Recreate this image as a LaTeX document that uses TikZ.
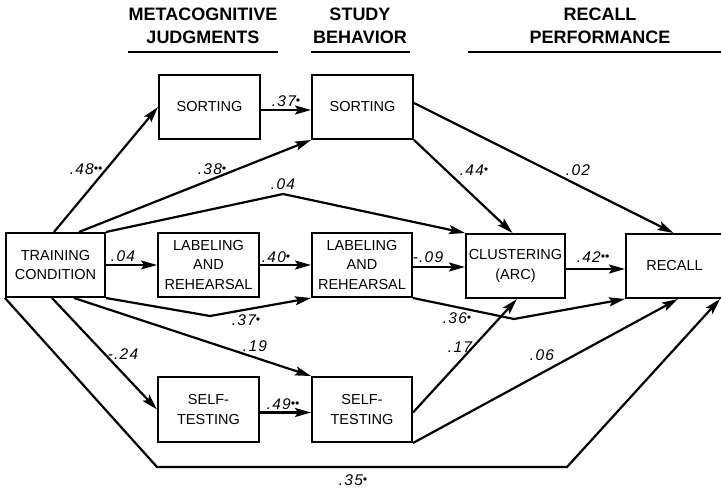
\documentclass[tikz,border=0pt]{standalone}
\usepackage{fontspec}
\setmainfont{Liberation Sans}
\newfontfamily\lblfont[LetterSpace=8]{Liberation Sans}
\usetikzlibrary{arrows.meta,calc}
\newcommand\dt{{\fontsize{12}{12}\selectfont\raisebox{0.25ex}{•}}}
\begin{document}
\begin{tikzpicture}[x=1pt,y=-1pt,
  box/.style={draw, line width=2pt, inner sep=0pt, align=center,
    font=\fontsize{14.5}{19.5}\selectfont},
  conn/.style={line width=2.2pt, -{Stealth[length=16pt,width=9pt,inset=3pt]}, line join=miter},
  lbl/.style={font=\lblfont\fontsize{15.5}{15.5}\selectfont\itshape, inner sep=1pt},
  hdr/.style={font=\fontsize{18}{23}\selectfont\bfseries, align=center},
  uline/.style={line width=2pt}]
\useasboundingbox (0,0) rectangle (721,489);

% headers
\node[hdr] (h1) at (203,26) {METACOGNITIVE\\JUDGMENTS};
\node[hdr] (h2) at (360,26) {STUDY\\BEHAVIOR};
\node[hdr] (h3) at (600,26) {RECALL\\PERFORMANCE};
\draw[uline] (128,52) -- (278,52);
\draw[uline] (311,52) -- (410,52);
\draw[uline] (468,52) -- (721,52);

% boxes
\node[box, minimum width=99pt, minimum height=64pt] (tc) at (55.5,265) {TRAINING\\CONDITION};
\node[box, minimum width=101pt, minimum height=64pt] (ms) at (209.5,107) {SORTING};
\node[box, minimum width=101pt, minimum height=64pt] (ss) at (362.5,107) {SORTING};
\node[box, minimum width=101pt, minimum height=64pt] (ml) at (208.5,265) {LABELING\\AND\\REHEARSAL};
\node[box, minimum width=100pt, minimum height=64pt] (sl) at (362,265) {LABELING\\AND\\REHEARSAL};
\node[box, minimum width=99pt, minimum height=64pt] (cl) at (515.5,266) {CLUSTERING\\(ARC)};
\node[box, minimum width=97pt, minimum height=64pt] (rc) at (674.5,266) {RECALL};
\node[box, minimum width=101pt, minimum height=65pt] (mt) at (208.5,409.5) {SELF-\\TESTING};
\node[box, minimum width=100pt, minimum height=65pt] (st) at (362,409.5) {SELF-\\TESTING};

% bend points
\coordinate (p04) at (283,194);
\coordinate (p37) at (210,316);
\coordinate (p36) at (514,319);
\coordinate (q1) at (157,467);
\coordinate (q2) at (567,467);

% connectors
\draw[conn] ([xshift=49pt]tc.north west) -- (ms.west);
\draw[conn] ([yshift=-3pt]ms.east) -- ([yshift=-3pt]ms.east -| ss.west);
\draw[conn] ([xshift=74pt]tc.north west) -- (ss.south west);
\draw[conn] (tc.north east) -- (p04) -- (cl.north west);
\draw[conn] (tc.east) -- (ml.west);
\draw[conn] (ml.east) -- (sl.west);
\draw[conn] ([yshift=-2pt]sl.east) -- ([yshift=-2pt]sl.east -| cl.west);
\draw[conn] ([yshift=-3pt]cl.east) -- ([yshift=-3pt]cl.east -| rc.west);
\draw[conn] (tc.south east) -- (p37) -- (sl.south west);
\draw[conn] (sl.south east) -- (p36) -- (rc.south west);
\draw[conn] (ss.south east) -- ([xshift=-3pt]cl.north);
\draw[conn] ([yshift=4pt]ss.east) -- ([xshift=-1pt]rc.north);
\draw[conn] ([xshift=47pt]tc.south west) -- (mt.west);
\draw[conn] ([xshift=69pt]tc.south west) -- (st.north west);
\draw[conn] ([yshift=-3pt]mt.east) -- ([yshift=-3pt]mt.east -| st.west);
\draw[conn] ([yshift=-3pt]st.east) -- ([xshift=1.5pt]cl.south);
\draw[conn] (st.south east) -- ([xshift=3.5pt]rc.south);
\draw[conn] (tc.south west) -- (q1) -- (q2) -- ([xshift=45.5pt]rc.south);

% labels
\node[lbl] (l48) at (86,169) {.48\dt\dt};
\node[lbl] (l37a) at (286,101) {.37\dt};
\node[lbl] (l38) at (212,169) {.38\dt};
\node[lbl] (l04a) at (283,184) {.04};
\node[lbl] (l04b) at (123,256) {.04};
\node[lbl] (l40) at (276,257) {.40\dt};
\node[lbl] (l09) at (428,257) {-.09};
\node[lbl] (l42) at (593,257) {.42\dt\dt};
\node[lbl] (l37b) at (246,320) {.37\dt};
\node[lbl] (l36) at (457,318) {.36\dt};
\node[lbl] (l44) at (474,170) {.44\dt};
\node[lbl] (l02) at (578,170) {.02};
\node[lbl] (l24) at (123,354) {-.24};
\node[lbl] (l19) at (255,346) {.19};
\node[lbl] (l49) at (283,404) {.49\dt\dt};
\node[lbl] (l17) at (460,347) {.17};
\node[lbl] (l06) at (542,355) {.06};
\node[lbl] (l35) at (353,480) {.35\dt};
\end{tikzpicture}
\end{document}
